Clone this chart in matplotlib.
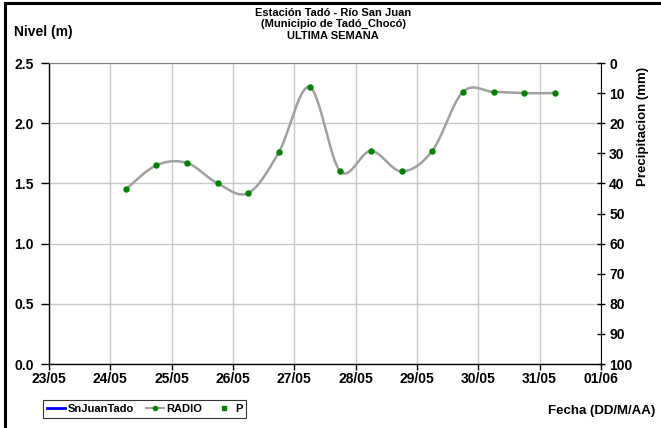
import matplotlib
matplotlib.use("Agg")
import matplotlib.pyplot as plt
import matplotlib.dates as mdates
from matplotlib.lines import Line2D
import numpy as np
import pandas as pd

plt.rcParams['font.family'] = ['Liberation Sans', 'DejaVu Sans']
plt.rcParams['font.weight'] = 'bold'

# ---- data ----
radio_times = ["2025-05-24 06:00", "2025-05-24 18:00", "2025-05-25 06:00", "2025-05-25 18:00",
               "2025-05-26 06:00", "2025-05-26 18:00", "2025-05-27 06:00", "2025-05-27 18:00",
               "2025-05-28 06:00", "2025-05-28 18:00", "2025-05-29 06:00", "2025-05-29 18:00",
               "2025-05-30 06:00", "2025-05-30 18:00", "2025-05-31 06:00"]
radio_levels = [1.45, 1.65, 1.67, 1.50, 1.42, 1.76, 2.30, 1.60, 1.77, 1.60, 1.77, 2.26, 2.26, 2.25, 2.25]
snjuan_times = []
snjuan_levels = []
p_times = []
p_values = []
tick_dates = ["2025-05-23", "2025-05-24", "2025-05-25", "2025-05-26", "2025-05-27",
              "2025-05-28", "2025-05-29", "2025-05-30", "2025-05-31", "2025-06-01"]
tick_labels = ["23/05", "24/05", "25/05", "26/05", "27/05", "28/05", "29/05", "30/05", "31/05", "01/06"]
y_ticks = [0.0, 0.5, 1.0, 1.5, 2.0, 2.5]
p_ticks = [0, 10, 20, 30, 40, 50, 60, 70, 80, 90, 100]

title = "Estación Tadó - Río San Juan\n(Municipio de Tadó_Chocó)\nULTIMA SEMANA"


def smooth(x, y, n=30):
    # Excel-like smoothed line (Catmull-Rom Bezier)
    x = np.asarray(x, float); y = np.asarray(y, float)
    xs, ys = [], []
    m = len(x)
    for i in range(m - 1):
        x0, y0 = (x[i - 1], y[i - 1]) if i > 0 else (x[i], y[i])
        x3, y3 = (x[i + 2], y[i + 2]) if i + 2 < m else (x[i + 1], y[i + 1])
        b1x = x[i] + (x[i + 1] - x0) / 6; b1y = y[i] + (y[i + 1] - y0) / 6
        b2x = x[i + 1] - (x3 - x[i]) / 6; b2y = y[i + 1] - (y3 - y[i]) / 6
        t = np.linspace(0, 1, n)
        xs.append((1 - t) ** 3 * x[i] + 3 * (1 - t) ** 2 * t * b1x + 3 * (1 - t) * t ** 2 * b2x + t ** 3 * x[i + 1])
        ys.append((1 - t) ** 3 * y[i] + 3 * (1 - t) ** 2 * t * b1y + 3 * (1 - t) * t ** 2 * b2y + t ** 3 * y[i + 1])
    return np.concatenate(xs), np.concatenate(ys)


fig = plt.figure(figsize=(6.61, 4.28), dpi=100)
ax = fig.add_axes([0.0741, 0.1495, 0.909 - 0.0741, 0.8528 - 0.1495])

rx = mdates.date2num(pd.to_datetime(radio_times))
sx, sy = smooth(rx, radio_levels)
ax.plot(sx, sy, color='#a0a0a0', lw=1.8, zorder=3)
ax.plot(rx, radio_levels, ls='none', marker='o', ms=3.6, color='#008000', zorder=4)
if snjuan_times:
    ax.plot(mdates.date2num(pd.to_datetime(snjuan_times)), snjuan_levels, color='#0000ff', lw=2)

tx = mdates.date2num(pd.to_datetime(tick_dates))
ax.set_xlim(tx[0], tx[-1])
ax.set_ylim(0, 2.5)
ax.set_xticks(tx)
ax.set_xticklabels(tick_labels)
ax.set_yticks(y_ticks)
ax.set_yticklabels([f"{v:.1f}" for v in y_ticks])
ax.grid(True, color='#c8c8c8', lw=1)
ax.set_axisbelow(True)
ax.tick_params(axis='x', labelsize=10, length=4, width=1, color='black', pad=2)
ax.tick_params(axis='y', labelsize=10, length=6, width=1, color='black', pad=5, direction='out')
for s in ['left', 'bottom']:
    ax.spines[s].set_color('black'); ax.spines[s].set_linewidth(1)
ax.spines['top'].set_color('#808080')
ax.spines['right'].set_visible(False)
for lab in ax.get_xticklabels() + ax.get_yticklabels():
    lab.set_fontweight('bold')

ax2 = ax.twinx()
ax2.set_ylim(100, 0)
ax2.set_yticks(p_ticks)
ax2.tick_params(axis='y', labelsize=10, length=6, width=1, direction='inout', pad=3)
ax2.spines['right'].set_color('black')
for s in ['left', 'top', 'bottom']:
    ax2.spines[s].set_visible(False)
for lab in ax2.get_yticklabels():
    lab.set_fontweight('bold')
if p_times:
    ax2.plot(mdates.date2num(pd.to_datetime(p_times)), p_values, ls='none', marker='s', ms=2, color='#008000')
ax2.set_ylabel("Precipitacion (mm)", fontsize=9.5, fontweight='bold')
ax2.yaxis.set_label_coords(1.066, 0.79)

fig.text(0.504, 0.982, title, ha='center', va='top', fontsize=8, fontweight='bold', linespacing=1.2)
fig.text(0.021, 0.925, "Nivel (m)", ha='left', va='center', fontsize=10, fontweight='bold')
fig.text(0.991, 0.04, "Fecha (DD/M/AA)", ha='right', va='center', fontsize=9.5, fontweight='bold')

handles = [Line2D([], [], color='#0000ff', lw=2),
           Line2D([], [], color='#a0a0a0', lw=1.5, marker='o', ms=3, markerfacecolor='#008000', markeredgecolor='#008000'),
           Line2D([], [], ls='none', marker='s', ms=2.5, color='#008000')]
leg = fig.legend(handles, ['SnJuanTado', 'RADIO', 'P'], loc='center left', bbox_to_anchor=(0.065, 0.044),
                 ncol=3, fontsize=8, frameon=True, fancybox=False, edgecolor='black', handlelength=1.6,
                 handletextpad=0.25, columnspacing=1.1, borderpad=0.35, borderaxespad=0)
leg.get_frame().set_linewidth(0.8)
for t in leg.get_texts():
    t.set_fontweight('bold')

# figure border (left and top)
fig.add_artist(Line2D([0.008, 0.008], [0, 0.992], color='black', lw=2.2, transform=fig.transFigure))
fig.add_artist(Line2D([0.008, 1.0], [0.992, 0.992], color='black', lw=2.2, transform=fig.transFigure))

fig.savefig("out.png", dpi=100)
